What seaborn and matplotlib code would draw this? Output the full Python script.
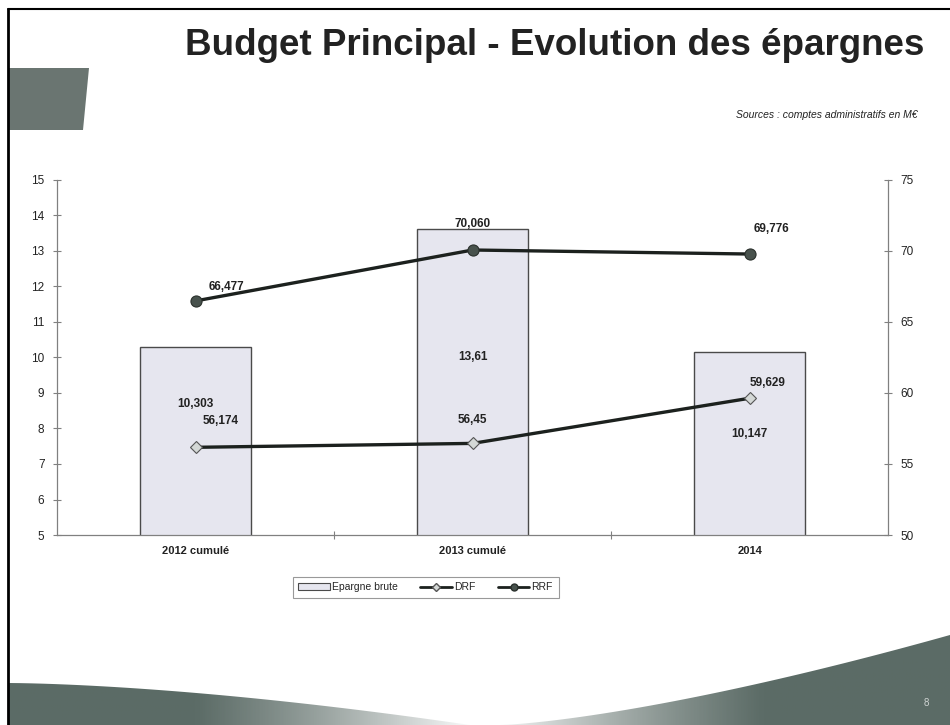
import numpy as np
import pandas as pd
import matplotlib.pyplot as plt
import seaborn as sns
from matplotlib.patches import Polygon, Patch
from matplotlib.lines import Line2D

# ------------------------
# Data (M€)
# ------------------------
categories = ['2012 cumulé', '2013 cumulé', '2014']
epargne_brute = [10.303, 13.61, 10.147]
drf = [56.174, 56.45, 59.629]
rrf = [66.477, 70.060, 69.776]

epargne_labels = ['10,303', '13,61', '10,147']
drf_labels = ['56,174', '56,45', '59,629']
rrf_labels = ['66,477', '70,060', '69,776']

# label placement (left axis value for bar labels, point offsets for lines)
bar_label_y = [8.7, 10.0, 7.85]
drf_offsets = [(18, 19), (0, 17), (13, 11)]
rrf_offsets = [(22, 10), (0, 19), (16, 18)]

df = pd.DataFrame({'annee': categories, 'epargne': epargne_brute})

sns.set_style('white')
plt.rcParams['font.family'] = ['Liberation Sans', 'DejaVu Sans']

fig = plt.figure(figsize=(9.5, 7.25), dpi=100)

# ------------------------
# Slide decoration (pixel coords)
# ------------------------
bg = fig.add_axes([0, 0, 1, 1], zorder=-5)
bg.set_xlim(0, 950)
bg.set_ylim(725, 0)
bg.axis('off')

grey = np.array([0.36, 0.42, 0.40])

def gradient_fill(poly_pts, x0, x1, reverse=False):
    poly = Polygon(poly_pts, closed=True, facecolor='none', edgecolor='none')
    bg.add_patch(poly)
    t = np.linspace(0, 1, 256)
    if reverse:
        t = t[::-1]
    alpha = np.clip(1.3 - 1.3 * t ** 1.6, 0, 1)
    img = np.ones((1, 256, 4))
    img[0, :, :3] = grey
    img[0, :, 3] = alpha
    im = bg.imshow(img, extent=[x0, x1, 725, 600], aspect='auto', origin='upper')
    im.set_clip_path(poly)

xs = np.linspace(8, 470, 40)
left_top = 683 + (xs - 8) ** 1.6 / (462 ** 1.6) * 42
gradient_fill(list(zip(xs, left_top)) + [(470, 725), (8, 725)], 8, 480)

xs = np.linspace(500, 950, 40)
right_top = 725 - ((xs - 500) / 450) ** 1.4 * 90
gradient_fill(list(zip(xs, right_top)) + [(950, 725), (500, 725)], 480, 950, reverse=True)

block = Polygon([(8, 68), (89, 68), (83, 130), (8, 130)], closed=True,
                facecolor='#6a7571', edgecolor='none')
bg.add_patch(block)

bg.plot([8, 950], [9, 9], color='black', lw=1.5)
bg.plot([8, 8], [9, 725], color='black', lw=2)
bg.text(926, 703, '8', fontsize=7, color='#cfd4d2', ha='center', va='center')

fig.text(0.584, 0.937, 'Budget Principal - Evolution des épargnes',
         fontsize=26.5, fontweight='bold', color='#222222', ha='center', va='center')
fig.text(0.966, 0.842, 'Sources : comptes administratifs en M€',
         fontsize=7.5, style='italic', color='#222222', ha='right', va='center')

# ------------------------
# Chart
# ------------------------
ax = fig.add_axes([0.06, 0.262, 0.875, 0.49])
sns.barplot(data=df, x='annee', y='epargne', ax=ax, width=0.4,
            color='#e6e6ef', edgecolor='#4a4a4a', linewidth=1, saturation=1)
ax.set_ylim(5, 15)
ax.set_xlim(-0.5, 2.5)
ax.set_yticks(range(5, 16))
ax.set_xlabel('')
ax.set_ylabel('')
for i, lab in enumerate(epargne_labels):
    ax.text(i, bar_label_y[i], lab, ha='center', va='center',
            fontsize=8.5, fontweight='bold', color='#222222')

ax2 = ax.twinx()
xpos = np.arange(len(categories))
sns.lineplot(x=xpos, y=drf, ax=ax2, color='#1c211e', linewidth=2.4,
             marker='D', markersize=6, markerfacecolor='#d4d8d6',
             markeredgecolor='#555', markeredgewidth=0.8)
sns.lineplot(x=xpos, y=rrf, ax=ax2, color='#1c211e', linewidth=2.4,
             marker='o', markersize=8, markerfacecolor='#48524d',
             markeredgecolor='#2a302c', markeredgewidth=0.8)
ax2.set_ylim(50, 75)
ax2.set_xlim(-0.5, 2.5)
ax2.set_yticks(range(50, 76, 5))

for i, lab in enumerate(drf_labels):
    ax2.annotate(lab, (xpos[i], drf[i]), xytext=drf_offsets[i], textcoords='offset points',
                 ha='center', va='center', fontsize=8.5, fontweight='bold', color='#222222')
for i, lab in enumerate(rrf_labels):
    ax2.annotate(lab, (xpos[i], rrf[i]), xytext=rrf_offsets[i], textcoords='offset points',
                 ha='center', va='center', fontsize=8.5, fontweight='bold', color='#222222')

# axes styling
for a in (ax, ax2):
    for s in a.spines.values():
        s.set_visible(False)
ax.spines['left'].set_visible(True)
ax.spines['bottom'].set_visible(True)
ax2.spines['right'].set_visible(True)
for s in (ax.spines['left'], ax.spines['bottom'], ax2.spines['right']):
    s.set_color('#808080')
    s.set_linewidth(0.9)

ax.tick_params(axis='y', direction='inout', length=6, width=0.8, color='#808080',
               labelsize=8.5, labelcolor='#222222', left=True, pad=6)
ax2.tick_params(axis='y', direction='inout', length=6, width=0.8, color='#808080',
                labelsize=8.5, labelcolor='#222222', right=True, pad=6)
ax.set_xticks(range(len(categories)))
ax.set_xticklabels(categories, fontsize=8, fontweight='bold', color='#222222')
ax.tick_params(axis='x', length=0, pad=8)
ax.set_xticks([0.5, 1.5], minor=True)
ax.tick_params(axis='x', which='minor', direction='inout', length=6, width=0.8,
               color='#808080', bottom=True)

# legend
handles = [
    Patch(facecolor='#e6e6ef', edgecolor='#4a4a4a', linewidth=0.8, label='Epargne brute'),
    Line2D([], [], color='#1c211e', lw=2, marker='D', markersize=4,
           markerfacecolor='#d4d8d6', markeredgecolor='#555', label='DRF'),
    Line2D([], [], color='#1c211e', lw=2, marker='o', markersize=5,
           markerfacecolor='#48524d', markeredgecolor='#2a302c', label='RRF'),
]
leg = fig.legend(handles=handles, loc='center', bbox_to_anchor=(0.448, 0.19), ncol=3,
                 fontsize=7.5, frameon=True, fancybox=False, handlelength=3,
                 handleheight=0.6, columnspacing=2.2, handletextpad=0.2,
                 borderpad=0.55, borderaxespad=0)
leg.get_frame().set_edgecolor('#808080')
leg.get_frame().set_linewidth(0.8)

plt.savefig('out.png', dpi=100)
